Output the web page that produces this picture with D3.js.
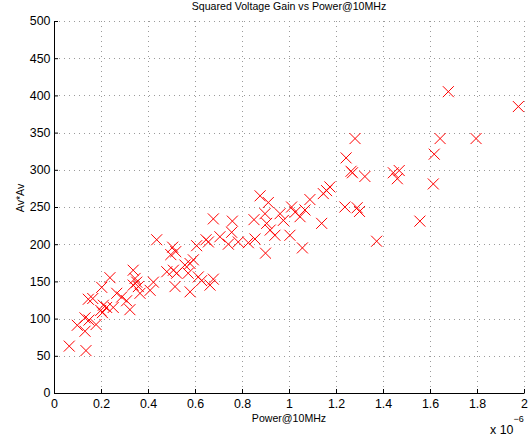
<!DOCTYPE html>
<html>
<head>
<meta charset="utf-8">
<script src="https://cdn.jsdelivr.net/npm/d3@7"></script>
<style>
    body { margin: 0; background: #fff; }
    text { font-family: 'Liberation Sans', Arial, Helvetica, sans-serif; fill: #000; }
</style>
</head>
<body>
<div id="chart"></div>
<script>
// Data: power @10MHz (in units of 1e-6) and squared voltage gain Av*Av
const power = [
    0.065, 0.136, 0.099, 0.132, 0.132, 0.149, 0.179, 0.146, 0.165, 0.203,
    0.238, 0.199, 0.210, 0.206, 0.224, 0.252, 0.267, 0.288, 0.309, 0.323,
    0.337, 0.345, 0.352, 0.337, 0.359, 0.366, 0.409, 0.423, 0.437, 0.480,
    0.505, 0.497, 0.518, 0.508, 0.522, 0.557, 0.571, 0.515, 0.579, 0.593,
    0.579, 0.607, 0.614, 0.628, 0.647, 0.657, 0.664, 0.678, 0.678, 0.706,
    0.742, 0.759, 0.756, 0.784, 0.827, 0.855, 0.851, 0.900, 0.877, 0.912,
    0.898, 0.905, 0.920, 0.940, 0.962, 0.976, 1.011, 1.004, 1.026, 1.047,
    1.068, 1.057, 1.089, 1.139, 1.146, 1.160, 1.174, 1.238, 1.290, 1.300,
    1.243, 1.264, 1.270, 1.281, 1.323, 1.444, 1.469, 1.461, 1.373, 1.557,
    1.614, 1.618, 1.643, 1.678, 1.796, 1.976
];
const gain = [
    63, 57, 91, 83, 101, 98, 92, 126, 127, 142,
    155, 111, 118, 108, 115, 115, 134, 129, 124, 112,
    165, 154, 149, 145, 143, 134, 138, 149, 206, 163,
    196, 186, 190, 165, 161, 172, 161, 143, 174, 179,
    136, 198, 156, 151, 206, 203, 145, 153, 234, 210,
    200, 231, 216, 203, 202, 207, 233, 188, 265, 256,
    241, 228, 219, 212, 241, 232, 250, 212, 243, 237,
    246, 195, 260, 228, 268, 272, 277, 250, 249, 244,
    316, 298, 296, 342, 291, 296, 299, 288, 204, 231,
    281, 321, 342, 405, 342, 385
];

// Axis ticks
const xTicks = [0, 0.2, 0.4, 0.6, 0.8, 1, 1.2, 1.4, 1.6, 1.8, 2];
const xTickLabels = ['0', '0.2', '0.4', '0.6', '0.8', '1', '1.2', '1.4', '1.6', '1.8', '2'];
const yTicks = [0, 50, 100, 150, 200, 250, 300, 350, 400, 450, 500];

// Define the SVG dimensions and margins
const margin = { top: 21, right: 8, bottom: 44, left: 54 };
const width = 532 - margin.left - margin.right;
const height = 437 - margin.top - margin.bottom;

const root = d3.select('#chart')
    .append('svg')
    .attr('width', 532)
    .attr('height', 437);

const svg = root.append('g')
    .attr('transform', `translate(${margin.left}, ${margin.top})`);

// Scales
const xScale = d3.scaleLinear().domain([0, 2]).range([0, width]);
const yScale = d3.scaleLinear().domain([0, 500]).range([height, 0]);

// Dotted grid
svg.append('g')
    .selectAll('line')
    .data(xTicks.slice(1))
    .enter().append('line')
    .attr('x1', d => Math.round(xScale(d)) + 0.5)
    .attr('x2', d => Math.round(xScale(d)) + 0.5)
    .attr('y1', 0)
    .attr('y2', height)
    .style('stroke', '#9a9a9a')
    .style('stroke-dasharray', '1,4');

svg.append('g')
    .selectAll('line')
    .data(yTicks.slice(1))
    .enter().append('line')
    .attr('x1', 0)
    .attr('x2', width)
    .attr('y1', d => Math.round(yScale(d)) + 0.5)
    .attr('y2', d => Math.round(yScale(d)) + 0.5)
    .style('stroke', '#9a9a9a')
    .style('stroke-dasharray', '1,4');

// Axes (ticks point inward, no box)
const xAxis = d3.axisBottom(xScale)
    .tickValues(xTicks)
    .tickFormat((d, i) => xTickLabels[i])
    .tickSizeInner(-4)
    .tickSizeOuter(0)
    .tickPadding(6.5);

const yAxis = d3.axisLeft(yScale)
    .tickValues(yTicks)
    .tickSizeInner(-4)
    .tickSizeOuter(0)
    .tickPadding(3.5);

const gx = svg.append('g')
    .attr('transform', `translate(0, ${height})`)
    .call(xAxis);
const gy = svg.append('g').call(yAxis);

[gx, gy].forEach(g => {
    g.select('.domain').style('stroke', '#000');
    g.selectAll('.tick line').style('stroke', '#000');
    g.selectAll('.tick text')
        .style('font-size', '12.4px')
        .style('font-family', "'Liberation Sans', Arial, sans-serif")
        .style('fill', '#000');
});

// Scatter markers: red x
svg.append('g')
    .selectAll('path')
    .data(power.map((p, i) => [p, gain[i]]))
    .enter().append('path')
    .attr('transform', d => `translate(${xScale(d[0])}, ${yScale(d[1])})`)
    .attr('d', 'M-5.5,-5.5L5.5,5.5M-5.5,5.5L5.5,-5.5')
    .style('fill', 'none')
    .style('stroke', '#ff0000')
    .style('stroke-width', 1);

// Title and axis labels
root.append('text')
    .attr('x', margin.left + width / 2)
    .attr('y', 10)
    .attr('text-anchor', 'middle')
    .style('font-size', '10.6px')
    .text('Squared Voltage Gain vs Power@10MHz');

root.append('text')
    .attr('x', margin.left + width / 2)
    .attr('y', 421.5)
    .attr('text-anchor', 'middle')
    .style('font-size', '10.6px')
    .text('Power@10MHz');

root.append('text')
    .attr('text-anchor', 'middle')
    .attr('transform', 'translate(24, 198) rotate(-90)')
    .style('font-size', '10.6px')
    .text('Av*Av');

// Exponent label at the end of the x axis
root.append('text')
    .attr('x', 490)
    .attr('y', 434)
    .style('font-size', '12.4px')
    .text('x 10');

root.append('text')
    .attr('x', 513.5)
    .attr('y', 422)
    .style('font-size', '9px')
    .text('\u22126');
</script>
</body>
</html>
